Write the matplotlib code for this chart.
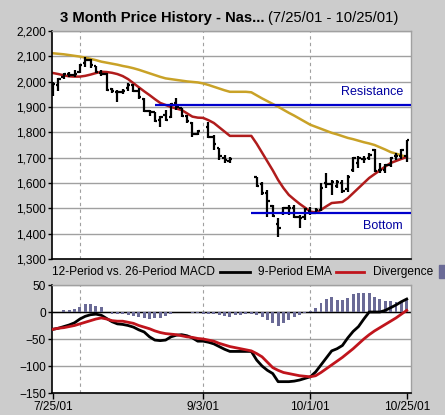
import numpy as np
import pandas as pd
import matplotlib
matplotlib.use('Agg')
import matplotlib.pyplot as plt
from matplotlib.lines import Line2D
from matplotlib.patches import Rectangle
from matplotlib.ticker import FuncFormatter

plt.rcParams['font.family'] = ['Liberation Sans', 'DejaVu Sans']

# weekdays on the axis, market closed on these
days = pd.bdate_range('2001-07-25', '2001-10-25')
closed = pd.to_datetime(['2001-09-03', '2001-09-11', '2001-09-12', '2001-09-13', '2001-09-14'])

# daily bars (trading days only)
opens = [1960, 1985, 2020, 2030, 2028, 2040, 2075, 2085, 2060, 2035, 2030, 1970, 1960, 1960, 1975, 1985, 1965, 1930, 1885, 1880, 1850, 1870, 1860, 1915, 1895, 1865, 1835, 1795,
         1820, 1780, 1738, 1700, 1685,
         1624, 1595, 1560, 1510, 1440, 1480, 1500, 1500, 1465, 1465, 1490, 1482, 1495, 1600, 1595, 1590, 1600, 1575, 1650, 1680, 1695, 1700, 1730, 1650, 1650, 1670, 1705, 1705, 1705]
highs = [1998, 2015, 2035, 2040, 2045, 2070, 2097, 2090, 2062, 2046, 2034, 1975, 1968, 1972, 1995, 1990, 1975, 1935, 1890, 1882, 1865, 1888, 1916, 1935, 1898, 1870, 1840, 1810,
         1841, 1790, 1740, 1711, 1703,
         1624, 1604, 1573, 1513, 1462, 1505, 1515, 1513, 1474, 1500, 1505, 1500, 1600, 1640, 1610, 1612, 1612, 1632, 1703, 1705, 1705, 1718, 1735, 1679, 1675, 1703, 1720, 1735, 1770]
lows = [1945, 1965, 2012, 2018, 2020, 2035, 2058, 2055, 2035, 2022, 1965, 1955, 1920, 1950, 1965, 1960, 1930, 1880, 1865, 1840, 1822, 1845, 1855, 1890, 1860, 1838, 1782, 1790,
        1778, 1730, 1690, 1679, 1680,
        1584, 1553, 1466, 1466, 1387, 1474, 1475, 1462, 1422, 1455, 1475, 1478, 1490, 1580, 1553, 1580, 1560, 1565, 1645, 1660, 1680, 1690, 1645, 1640, 1640, 1663, 1690, 1695, 1683]
closes = [1990, 2010, 2030, 2025, 2030, 2065, 2085, 2065, 2040, 2030, 1968, 1962, 1960, 1965, 1985, 1965, 1940, 1885, 1880, 1845, 1860, 1850, 1910, 1900, 1865, 1845, 1795, 1805,
          1780, 1755, 1705, 1690, 1695,
          1590, 1560, 1530, 1470, 1423, 1500, 1502, 1465, 1460, 1498, 1480, 1492, 1580, 1598, 1605, 1605, 1570, 1625, 1700, 1700, 1695, 1712, 1648, 1652, 1670, 1700, 1705, 1730, 1770]

# averages, one value per weekday
ma_slow = [2112, 2110, 2108, 2105, 2102, 2099, 2095, 2090, 2085, 2079, 2075, 2071, 2067, 2062, 2058, 2053, 2047, 2040, 2033, 2026,
           2019, 2013, 2010, 2007, 2004, 2001, 1999, 1997, 1993, 1987, 1980, 1973, 1966, 1960, 1960, 1960, 1960, 1958, 1946, 1934,
           1923, 1912, 1901, 1889, 1877, 1866, 1854, 1842, 1830, 1822, 1814, 1806, 1798, 1792, 1785, 1778, 1773, 1767, 1761, 1756,
           1750, 1741, 1732, 1722, 1716, 1709, 1703]
ma_fast = [2034, 2030, 2025, 2021, 2020, 2020, 2023, 2028, 2034, 2039, 2038, 2035, 2030, 2022, 2010, 1994, 1978, 1962, 1947, 1931,
           1916, 1908, 1900, 1894, 1888, 1875, 1862, 1858, 1857, 1848, 1837, 1820, 1803, 1786, 1786, 1786, 1786, 1786, 1755, 1720,
           1685, 1650, 1612, 1580, 1553, 1535, 1518, 1503, 1487, 1484, 1494, 1508, 1521, 1523, 1525, 1540, 1560, 1580, 1600, 1620,
           1635, 1650, 1665, 1679, 1687, 1695, 1703]

resistance = 1908
resistance_from = '2001-08-21'
bottom = 1482
bottom_from = '2001-09-14'

# MACD panel, one value per weekday
macd = [-32, -30, -27, -24, -20, -13, -8, -5, -4, -6, -12, -18, -22, -23, -25, -28, -33, -37, -46, -52,
        -53, -52, -46, -43, -42, -44, -48, -54, -54, -56, -59, -64, -69, -73, -73, -73, -73, -73, -89, -100,
        -108, -114, -129, -129, -129, -128, -126, -123, -120, -111, -98, -85, -72, -68, -62, -48, -36, -27, -13, 0,
        0, 0, 3, 8, 13, 19, 24]
ema9 = [-32, -30, -29, -27, -25, -22, -19, -16, -13, -11, -13, -16, -17, -17, -19, -21, -25, -28, -31, -35,
        -38, -40, -41, -42, -44, -46, -47, -49, -50, -52, -54, -58, -61, -64, -66, -68, -70, -72, -77, -83,
        -93, -103, -108, -112, -114, -116, -118, -119, -120, -118, -112, -105, -98, -91, -84, -76, -68, -59, -50, -42,
        -35, -29, -23, -17, -11, -4, 3]
diverg = [0, 0, 4, 4, 6, 9, 14, 14, 12, 9, 0, -3, -3, -4, -5, -7, -9, -11, -13, -12,
          -11, -8, -4, 0, 0, 0, -2, -2, -3, -3, -4, -6, -8, -10, -6, -5, -4, -4, -6, -10,
          -15, -21, -25, -20, -14, -9, -5, -2, 2, 7, 17, 24, 27, 22, 22, 26, 33, 36, 35, 35,
          27, 24, 21, 20, 19, 20, 22]

grid_dates = ['2001-08-01', '2001-09-03', '2001-10-01']
tick_dates = ['2001-07-25', '2001-09-03', '2001-10-01', '2001-10-25']
tick_labels = ['7/25/01', '9/3/01', '10/1/01', '10/25/01']

xi = np.arange(len(days))
xt = xi[~days.isin(closed)]


def pos(d):
    return days.get_loc(pd.Timestamp(d))


bg = '#cccccc'
gridc = '#a0a0a0'
fs = 8.6
fig = plt.figure(figsize=(4.45, 4.15), dpi=100, facecolor=bg)
ax1 = fig.add_axes([52/445, 1-259/415, 359/445, 228/415])
ax2 = fig.add_axes([52/445, 1-393/415, 359/445, 108/415])

for ax in (ax1, ax2):
    ax.set_facecolor('white')
    ax.set_xlim(-0.2, 66.8)
    for s in ('left', 'bottom'):
        ax.spines[s].set_color('black')
        ax.spines[s].set_linewidth(1.2)
    for s in ('top', 'right'):
        ax.spines[s].set_color(gridc)
        ax.spines[s].set_linewidth(1)
    for d in grid_dates:
        ax.axvline(pos(d), color=gridc, lw=0.8, ls=(0, (3, 3)), zorder=0)
    ax.tick_params(axis='y', labelsize=fs, length=3, width=1, pad=1.5)
    ax.yaxis.grid(True, color=gridc, lw=1, zorder=0)
    ax.set_axisbelow(True)

# ---- price panel
ax1.set_ylim(1300, 2200)
ax1.set_yticks(range(1300, 2201, 100))
ax1.yaxis.set_major_formatter(FuncFormatter(lambda v, p: '{:,.0f}'.format(v)))
ax1.set_xticks([])

ax1.plot(xi, ma_slow, color='#c9a227', lw=1.8, zorder=2)
ax1.plot(xi, ma_fast, color='#b01c1c', lw=1.8, zorder=2)

ax1.vlines(xt, lows, highs, color='black', lw=1.6, zorder=3)
ax1.hlines(opens, xt - 0.45, xt, color='black', lw=1.6, zorder=3)
ax1.hlines(closes, xt, xt + 0.45, color='black', lw=1.6, zorder=3)

ax1.hlines(resistance, pos(resistance_from), 66.8, color='#0000cc', lw=1.6, zorder=4)
ax1.hlines(bottom, pos(bottom_from), 66.8, color='#0000cc', lw=1.6, zorder=4)
ax1.text(65.3, 1959, 'Resistance', color='#0000a0', fontsize=9, ha='right', va='center')
ax1.text(65.3, 1430, 'Bottom', color='#0000a0', fontsize=9, ha='right', va='center')

# ---- MACD panel
ax2.set_ylim(-150, 50)
ax2.set_yticks([-150, -100, -50, 0, 50])
ax2.axhline(0, color='black', lw=1, zorder=1)
ax2.bar(xi, diverg, width=0.55, color='#6a6a96', zorder=1)
ax2.plot(xi, macd, color='black', lw=2, zorder=3)
ax2.plot(xi, ema9, color='#c0141c', lw=2, zorder=3)
ax2.set_xticks([pos(d) for d in tick_dates])
ax2.set_xticklabels(tick_labels)
ax2.tick_params(axis='x', labelsize=fs, length=4, width=1, pad=2)

# legend row between the panels
ly = 1 - 272/415
fig.text(52/445, ly, '12-Period vs. 26-Period MACD', fontsize=fs, va='center')
fig.add_artist(Line2D([220/445, 250/445], [ly, ly], color='black', lw=2))
fig.text(258/445, ly, '9-Period EMA', fontsize=fs, va='center')
fig.add_artist(Line2D([336/445, 364/445], [ly, ly], color='#c0141c', lw=2))
fig.text(373/445, ly, 'Divergence', fontsize=fs, va='center')
fig.add_artist(Rectangle((439/445, 1-278/415), 8/445, 13/415, color='#6a6a96', transform=fig.transFigure))

# title, bold part then dates
t1 = fig.text(60/445, 1-18/415, '3 Month Price History - Nas...', fontsize=10.6, fontweight='bold', va='center')
fig.canvas.draw()
bb = t1.get_window_extent(fig.canvas.get_renderer())
fig.text((bb.x1 + 4)/445, 1-18/415, '(7/25/01 - 10/25/01)', fontsize=10.6, va='center')

fig.savefig('out.png', dpi=100, facecolor=bg)
